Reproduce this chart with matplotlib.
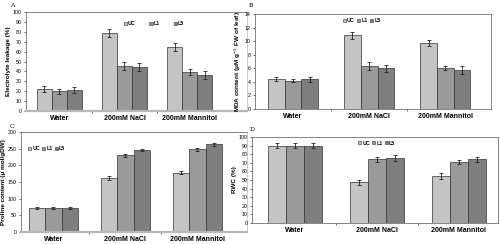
import matplotlib
matplotlib.use("Agg")
import matplotlib.pyplot as plt
from matplotlib.patches import Patch
import numpy as np

plt.rcParams["font.family"] = ["Liberation Sans", "DejaVu Sans"]

categories = ["Water", "200mM NaCl", "200mM Mannitol"]
lines = ["UC", "L1", "L5"]
colors = ["#c4c4c4", "#9a9a9a", "#7e7e7e"]

# A: electrolyte leakage (%)
leak = {"UC": [22, 78.5, 65], "L1": [20, 45, 39], "L5": [21, 44, 36]}
leak_err = {"UC": [3, 4, 4], "L1": [2.5, 4, 3], "L5": [3, 4, 4]}
# B: MDA content
mda = {"UC": [4.4, 10.85, 9.7], "L1": [4.2, 6.3, 6.0], "L5": [4.35, 6.0, 5.75]}
mda_err = {"UC": [0.3, 0.5, 0.4], "L1": [0.25, 0.6, 0.3], "L5": [0.3, 0.5, 0.6]}
# C: proline content
pro = {"UC": [72, 162, 178], "L1": [72, 230, 248], "L5": [72, 246, 263]}
pro_err = {"UC": [3, 5, 5], "L1": [2, 5, 4], "L5": [3, 4, 4]}
# D: RWC (%)
rwc = {"UC": [90, 47.5, 55], "L1": [90, 74, 71], "L5": [90, 76, 74]}
rwc_err = {"UC": [2.5, 3, 3.5], "L1": [3, 3, 2.5], "L5": [2.5, 3.5, 3]}

fig = plt.figure(figsize=(5.0, 2.44), dpi=100)
W, H = 500, 244


def add_ax(l, t, r, b):
    return fig.add_axes([l / W, 1 - b / H, (r - l) / W, (b - t) / H])


def panel(ax, vals, errs, ymax, step, xlim, width, ylabel, floor):
    x = np.arange(len(categories))
    for i, ln in enumerate(lines):
        ax.bar(x + (i - 1) * width, vals[ln], width, color=colors[i],
               edgecolor="#333333", linewidth=0.5, zorder=2)
        ax.errorbar(x + (i - 1) * width, vals[ln], yerr=errs[ln], fmt="none",
                    ecolor="#222222", elinewidth=0.6, capsize=1.3, capthick=0.6, zorder=3)
    ax.set_xlim(*xlim)
    ax.set_ylim(0, ymax)
    ax.set_yticks(np.arange(0, ymax + step / 2, step))
    ax.tick_params(axis="y", labelsize=3.8, length=1.5, width=0.4, pad=1.5)
    ax.set_xticks(x)
    ax.set_xticklabels(categories, fontsize=5, fontweight="bold")
    ax.tick_params(axis="x", length=0, pad=3)
    ax.set_xticks([0.5, 1.5], minor=True)
    ax.tick_params(axis="x", which="minor", length=1.5, width=0.4)
    ax.set_ylabel(ylabel, fontsize=4.6, fontweight="bold", labelpad=1.5)
    for s in ax.spines.values():
        s.set_linewidth(0.5)
        s.set_color("#555555")
    if floor:
        ax.spines["bottom"].set_color("#b8b8b8")
        ax.spines["bottom"].set_linewidth(1.6)
        ax.spines["right"].set_color("#b8b8b8")


axA = add_ax(26, 12, 247, 111)
panel(axA, leak, leak_err, 100, 10, (-0.51, 2.88), 0.23, "Electrolyte leakage (%)", True)
axB = add_ax(255, 14, 491, 109)
panel(axB, mda, mda_err, 14, 2, (-0.5, 2.6), 0.22,
      "MDA content (\u03bcM g$^{-1}$ FW of leaf)", False)
axC = add_ax(21, 132, 247, 232)
panel(axC, pro, pro_err, 300, 50, (-0.45, 2.69), 0.23, "Proline content (\u03bc mol/gDW)", True)
axD = add_ax(252, 137, 498, 223)
panel(axD, rwc, rwc_err, 100, 10, (-0.52, 2.48), 0.22, "RWC (%)", False)

handles = [Patch(facecolor=c, edgecolor="#333333", linewidth=0.4) for c in colors]


def leg(ax, x, y, spacing):
    ax.legend(handles, lines, loc="center left", bbox_to_anchor=(x, y), ncol=3,
              frameon=False, handlelength=0.6, handleheight=0.6,
              handletextpad=0.2, columnspacing=spacing, borderpad=0,
              prop={"size": 3.8, "weight": "bold"})


leg(axA, 0.43, 0.88, 2.6)
leg(axB, 0.36, 0.93, 0.5)
leg(axC, 0.02, 0.83, 0.4)
leg(axD, 0.42, 0.93, 0.4)

for lab, px, py in [("A", 10, 3), ("B", 249, 3), ("C", 10, 124), ("D", 250, 127)]:
    fig.text(px / W, 1 - py / H, lab, fontsize=4.5, family="serif", va="top")

fig.savefig("out.png", dpi=100)
